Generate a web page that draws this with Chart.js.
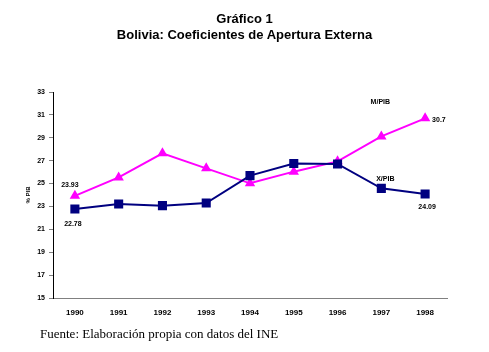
<!DOCTYPE html>
<html>
<head>
<meta charset="utf-8">
<script src="https://cdn.jsdelivr.net/npm/chart.js@4/dist/chart.umd.min.js"></script>
<style>
  html, body { margin: 0; padding: 0; background: #fff; }
  #wrap { position: relative; width: 489px; height: 352px; overflow: hidden; }
  #c { position: absolute; left: 0; top: 0; }
  .t { position: absolute; left: 0; width: 489px; text-align: center; font-family: "Liberation Sans", Arial, sans-serif; font-weight: bold; font-size: 13px; color: #000; white-space: nowrap; }
  #foot { position: absolute; left: 40px; top: 326px; font-family: "Liberation Serif", "Times New Roman", serif; font-size: 13px; line-height: 16px; color: #000; white-space: nowrap; }
</style>
</head>
<body>
<div id="wrap">
  <canvas id="c" width="489" height="352"></canvas>
  <div class="t" style="top:11px">Gráfico 1</div>
  <div class="t" style="top:27px">Bolivia: Coeficientes de Apertura Externa</div>
  <div id="foot">Fuente: Elaboración propia con datos del INE</div>
</div>
<script>
const years = ["1990","1991","1992","1993","1994","1995","1996","1997","1998"];
const xPib = [22.78, 23.22, 23.07, 23.30, 25.69, 26.76, 26.71, 24.58, 24.09];
const mPib = [23.93, 25.54, 27.64, 26.33, 25.02, 26.04, 26.94, 29.12, 30.7];
const yTicks = [15, 17, 19, 21, 23, 25, 27, 29, 31, 33];
const seriesNames = ["X/PIB", "M/PIB"];
const axisTitle = "% PIB";

const labelFont = 'bold 7px "Liberation Sans", Arial, sans-serif';

const annot = {
  id: 'annot',
  afterDatasetsDraw(chart) {
    const ctx = chart.ctx;
    const xs = chart.scales.x, ys = chart.scales.y;
    const mX = chart.getDatasetMeta(0).data;
    const mM = chart.getDatasetMeta(1).data;
    const n = years.length - 1;
    ctx.save();
    ctx.fillStyle = '#000';
    ctx.font = labelFont;
    ctx.textBaseline = 'middle';
    ctx.textAlign = 'center';
    ctx.fillText(mPib[0].toFixed(2), mM[0].x - 5, mM[0].y - 11);
    ctx.fillText(xPib[0].toFixed(2), mX[0].x - 2, mX[0].y + 15);
    ctx.fillText(xPib[n].toFixed(2), mX[n].x + 2, mX[n].y + 13);
    ctx.textAlign = 'left';
    ctx.fillText(String(mPib[n]), mM[n].x + 7, mM[n].y + 2);
    ctx.textAlign = 'center';
    ctx.fillText(seriesNames[1], xs.getPixelForValue(7) - 1, ys.getPixelForValue(32.1));
    ctx.fillText(seriesNames[0], xs.getPixelForValue(7) + 4, ys.getPixelForValue(25.35));
    ctx.translate(28, (ys.top + ys.bottom) / 2);
    ctx.rotate(-Math.PI / 2);
    ctx.font = 'bold 6px "Liberation Sans", Arial, sans-serif';
    ctx.fillText(axisTitle, 0, 0);
    ctx.restore();
  }
};

new Chart(document.getElementById('c'), {
  type: 'line',
  data: {
    labels: years,
    datasets: [
      {
        label: seriesNames[0], data: xPib,
        borderColor: '#000080', backgroundColor: '#000080',
        borderWidth: 2, pointStyle: 'rect', pointRadius: 5, pointHoverRadius: 5,
        tension: 0, fill: false
      },
      {
        label: seriesNames[1], data: mPib,
        borderColor: '#FF00FF', backgroundColor: '#FF00FF',
        borderWidth: 2, pointStyle: 'triangle', pointRadius: 4, pointHoverRadius: 4,
        tension: 0, fill: false
      }
    ]
  },
  options: {
    responsive: false,
    animation: false,
    devicePixelRatio: 1,
    layout: { padding: { left: 0, top: 92, right: 42, bottom: 0 } },
    plugins: { legend: { display: false }, tooltip: { enabled: false } },
    scales: {
      x: {
        offset: true,
        grid: { display: false, drawTicks: false },
        border: { display: true, color: '#808080', width: 1 },
        ticks: { color: '#000', padding: 10, font: { family: '"Liberation Sans", Arial, sans-serif', size: 8, weight: 'bold' } },
        afterFit(s) { s.height = 54; }
      },
      y: {
        min: 15, max: 33,
        afterBuildTicks(s) { s.ticks = yTicks.map(v => ({ value: v })); },
        grid: { display: true, drawOnChartArea: false, drawTicks: true, tickLength: 4, color: '#808080' },
        border: { display: true, color: '#000', width: 1 },
        ticks: { color: '#000', padding: 4, font: { family: '"Liberation Sans", Arial, sans-serif', size: 7, weight: 'bold' } },
        afterFit(s) { s.width = 53; }
      }
    }
  },
  plugins: [annot]
});
</script>
</body>
</html>
